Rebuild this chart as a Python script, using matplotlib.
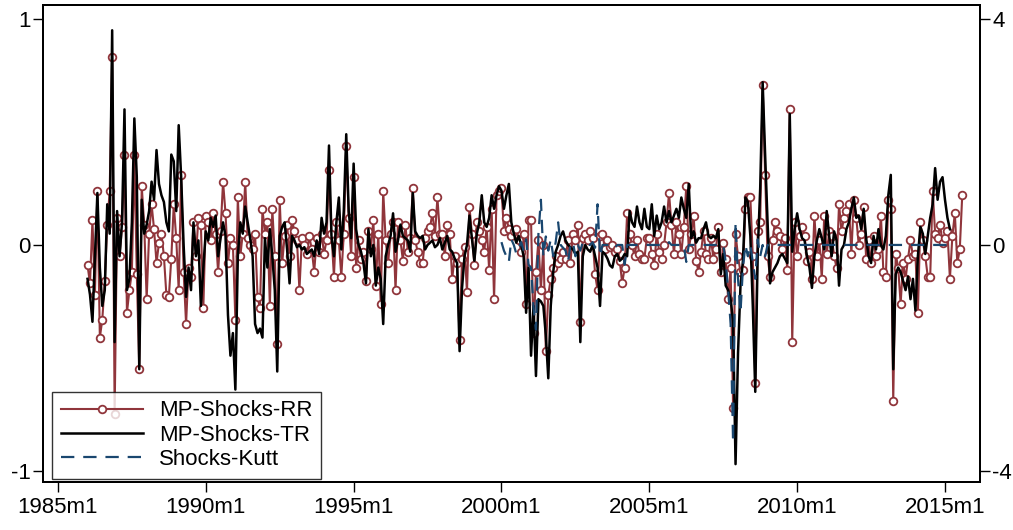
import numpy as np
import matplotlib.pyplot as plt

plt.rcParams['font.family'] = ['Liberation Sans', 'DejaVu Sans']

# Monthly monetary policy shocks. Months are counted from 1985m1.
rr_start = 12     # 1986m1
tr_start = 12     # 1986m1
kutt_start = 180  # 2000m1

# MP-Shocks-RR, 1986m1 - 2015m8
rr = [
    -0.09, -0.17, 0.11, -0.22, 0.24, -0.41, -0.33, -0.16, 0.09, 0.24, 0.83, -0.75,   # 1986
    0.12, -0.05, 0.08, 0.40, -0.30, -0.20, -0.12, 0.40, -0.13, -0.55, 0.26, 0.09,    # 1987
    -0.24, 0.05, 0.18, 0.07, -0.08, 0.01, 0.05, -0.05, -0.22, -0.23, -0.06, 0.18,    # 1988
    0.03, -0.20, 0.31, -0.12, -0.35, -0.10, -0.14, 0.10, -0.05, 0.12, 0.09, -0.28,   # 1989
    0.13, 0.10, 0.02, 0.14, 0.05, -0.12, 0.06, 0.28, 0.14, -0.08, 0.03, 0.00,        # 1990
    -0.33, 0.21, -0.05, 0.05, 0.28, 0.03, 0.00, -0.02, 0.05, -0.23, -0.28, 0.16,     # 1991
    0.05, 0.10, -0.27, 0.16, -0.05, -0.44, 0.20, -0.08, 0.04, 0.09, -0.05, 0.11,     # 1992
    0.06, 0.02, -0.20, 0.03, 0.00, -0.04, 0.04, -0.02, -0.12, 0.03, -0.03, 0.05,     # 1993
    -0.04, 0.02, 0.33, 0.05, -0.14, 0.10, 0.02, -0.14, 0.05, 0.44, 0.12, -0.05,      # 1994
    0.30, -0.10, 0.02, -0.06, -0.03, -0.16, 0.06, -0.02, 0.11, -0.18, 0.05, -0.26,   # 1995
    0.24, 0.02, -0.08, 0.05, 0.10, -0.20, 0.10, 0.02, -0.07, 0.09, -0.03, 0.03,      # 1996
    0.25, 0.02, -0.03, -0.08, -0.08, 0.03, 0.06, 0.08, 0.14, 0.04, 0.21, 0.05,       # 1997
    0.05, -0.05, 0.09, 0.05, -0.15, -0.05, -0.08, -0.42, -0.06, -0.01, -0.21, 0.17,  # 1998
    0.05, -0.09, 0.10, 0.06, 0.02, -0.03, 0.08, -0.11, 0.16, -0.24, 0.22, 0.24,      # 1999
    0.25, 0.06, 0.12, 0.07, 0.04, 0.06, 0.07, 0.02, -0.03, 0.05, -0.26, 0.11,        # 2000
    0.11, -0.39, -0.12, 0.02, -0.20, 0.00, -0.47, -0.22, -0.15, -0.10, -0.05, -0.08, # 2001
    -0.06, -0.03, -0.06, 0.02, -0.08, 0.05, 0.02, 0.09, -0.34, 0.03, 0.05, 0.02,     # 2002
    0.06, 0.03, -0.13, -0.20, 0.04, 0.05, -0.02, 0.02, -0.01, 0.00, -0.03, -0.02,    # 2003
    -0.07, -0.17, -0.10, 0.14, 0.05, 0.00, -0.05, 0.02, -0.04, -0.06, -0.06, 0.03,   # 2004
    0.03, -0.04, -0.09, 0.05, -0.03, -0.06, 0.00, 0.10, 0.23, 0.09, -0.04, 0.10,     # 2005
    0.05, -0.04, 0.08, 0.26, -0.02, 0.05, 0.13, -0.07, -0.12, -0.03, 0.06, -0.04,    # 2006
    -0.06, 0.03, -0.06, -0.02, 0.08, -0.12, 0.01, -0.06, -0.24, -0.10, -0.72, 0.05,  # 2007
    -0.05, -0.12, -0.11, 0.16, 0.21, 0.21, -0.05, -0.61, 0.06, 0.10, 0.71, 0.31,     # 2008
    -0.05, -0.14, 0.02, 0.10, 0.06, 0.04, -0.02, 0.03, -0.11, 0.60, -0.43, 0.10,     # 2009
    -0.05, 0.04, 0.08, 0.04, -0.07, -0.03, -0.15, 0.13, -0.05, 0.02, -0.15, 0.13,    # 2010
    -0.04, 0.06, 0.04, -0.05, -0.10, 0.18, 0.06, 0.12, 0.15, 0.18, -0.04, 0.20,      # 2011
    0.12, 0.00, 0.05, 0.17, -0.06, 0.02, -0.08, 0.04, -0.05, -0.02, 0.13, -0.12,     # 2012
    -0.14, 0.20, 0.16, -0.69, -0.04, -0.10, -0.26, -0.08, -0.15, -0.06, 0.02, -0.05, # 2013
    -0.04, -0.30, 0.10, 0.02, -0.05, -0.14, -0.14, 0.24, 0.05, 0.03, 0.09, 0.01,     # 2014
    0.03, 0.06, -0.15, 0.04, 0.14, -0.08, -0.02, 0.22,                               # 2015
]

# MP-Shocks-TR, 1986m1 - 2015m3
tr = [
    -0.15, -0.22, -0.34, -0.05, 0.23, -0.10, -0.27, -0.20, 0.18, 0.05, 0.95, -0.43,  # 1986
    0.15, -0.05, 0.10, 0.60, -0.20, -0.15, 0.10, 0.56, 0.30, -0.55, 0.20, 0.05,      # 1987
    0.09, 0.15, 0.28, 0.20, 0.42, 0.27, 0.22, 0.19, 0.10, 0.06, 0.40, 0.37,          # 1988
    0.15, 0.53, 0.30, 0.00, -0.23, -0.10, -0.20, 0.10, -0.05, 0.02, -0.27, -0.10,    # 1989
    0.06, 0.02, 0.12, 0.08, 0.13, -0.05, 0.03, 0.10, 0.04, -0.31, -0.49, -0.39,      # 1990
    -0.64, -0.05, 0.10, 0.05, 0.17, 0.10, 0.03, -0.05, -0.35, -0.39, -0.37, -0.41,   # 1991
    0.03, -0.10, 0.07, -0.05, -0.20, -0.56, 0.04, 0.08, 0.10, -0.02, -0.17, 0.04,    # 1992
    0.02, -0.01, 0.00, -0.02, -0.01, -0.04, -0.03, -0.02, -0.05, 0.02, -0.04, 0.12,  # 1993
    0.05, 0.10, 0.44, 0.04, -0.05, 0.10, 0.21, -0.02, 0.15, 0.49, 0.15, 0.03,        # 1994
    0.36, 0.07, 0.00, -0.03, -0.08, -0.17, 0.07, -0.05, 0.00, -0.18, -0.10, -0.15,   # 1995
    -0.35, -0.05, 0.00, 0.04, 0.14, -0.03, 0.02, 0.09, 0.04, 0.03, 0.02, -0.03,      # 1996
    0.23, 0.06, 0.04, 0.03, 0.04, -0.02, 0.00, 0.01, 0.02, -0.01, 0.00, 0.03,        # 1997
    -0.02, 0.01, 0.04, -0.02, -0.03, -0.06, -0.08, -0.47, -0.19, -0.05, 0.00, 0.13,  # 1998
    0.03, -0.07, 0.05, 0.10, 0.22, 0.10, 0.08, 0.12, 0.22, 0.16, 0.22, 0.26,         # 1999
    0.24, 0.16, 0.22, 0.27, 0.10, 0.05, 0.01, 0.04, 0.00, -0.05, -0.30, -0.10,       # 2000
    -0.49, -0.27, -0.58, -0.24, -0.25, -0.27, -0.40, -0.59, -0.27, -0.12, -0.03, 0.00, # 2001
    0.04, 0.06, 0.02, 0.00, -0.01, -0.02, -0.04, -0.03, -0.43, -0.05, 0.00, -0.02,   # 2002
    -0.03, 0.00, -0.05, -0.10, -0.27, -0.03, -0.04, -0.06, -0.09, -0.10, -0.05, -0.04, # 2003
    -0.07, -0.06, -0.04, -0.05, 0.15, 0.10, 0.08, 0.17, 0.10, 0.07, 0.16, 0.08,      # 2004
    0.07, 0.18, 0.04, 0.13, 0.07, 0.10, 0.17, 0.10, 0.15, 0.10, 0.13, 0.16,          # 2005
    0.12, 0.21, 0.16, 0.12, 0.27, 0.03, 0.06, 0.01, 0.03, 0.03, 0.07, 0.10,          # 2006
    0.04, 0.03, 0.04, 0.03, 0.07, -0.13, -0.04, -0.18, -0.20, -0.24, -0.34, -0.97,   # 2007
    -0.48, -0.18, -0.07, 0.21, 0.19, 0.04, -0.27, -0.65, -0.03, 0.25, 0.72, 0.40,    # 2008
    0.10, -0.17, -0.12, -0.10, -0.08, -0.05, -0.04, -0.06, -0.08, 0.58, -0.03, 0.07, # 2009
    0.14, 0.07, 0.03, 0.02, -0.05, -0.10, -0.19, -0.05, 0.02, 0.07, 0.03, -0.02,     # 2010
    0.15, 0.04, -0.05, 0.06, 0.02, -0.18, -0.02, 0.00, 0.07, 0.10, 0.16, 0.21,       # 2011
    0.12, 0.13, 0.07, 0.16, 0.03, -0.05, -0.08, 0.04, -0.02, 0.07, 0.00, -0.02,      # 2012
    0.04, 0.22, 0.31, -0.55, -0.13, -0.10, -0.12, -0.16, -0.20, -0.14, -0.24, -0.15, # 2013
    -0.29, -0.05, 0.08, 0.05, -0.04, 0.04, 0.12, 0.18, 0.34, 0.20, 0.28, 0.30,       # 2014
    0.20, 0.12, 0.07,                                                                # 2015
]

# Shocks-Kutt (right axis), 2000m1 - 2015m3
kutt = [
    0.05, -0.10, -0.20, -0.30, 0.10, 0.00, -0.15, -0.05, 0.05, -0.10, 0.10, -0.35,   # 2000
    -0.40, -1.10, -1.50, 0.20, 0.80, -0.20, 0.15, -0.10, 0.10, -0.20, 0.05, 0.40,    # 2001
    0.00, -0.05, -0.10, -0.30, 0.00, 0.05, -0.20, 0.00, -0.10, 0.05, 0.00, 0.00,     # 2002
    0.00, 0.05, -0.05, 0.72, -0.20, 0.00, 0.00, 0.00, 0.00, 0.00, -0.05, 0.00,       # 2003
    0.00, 0.00, -0.35, 0.00, 0.00, 0.00, 0.00, 0.00, 0.00, 0.00, 0.00, 0.00,         # 2004
    0.00, 0.00, 0.00, 0.00, 0.00, 0.00, 0.00, 0.00, 0.05, 0.00, 0.00, 0.00,          # 2005
    0.00, 0.00, 0.00, -0.30, 0.00, 0.00, 0.00, 0.00, 0.00, 0.00, 0.00, 0.00,         # 2006
    0.00, 0.00, 0.00, 0.00, 0.00, 0.00, 0.00, -0.30, -0.80, -1.40, -3.50, 0.40,      # 2007
    -0.60, -1.20, -0.40, 0.00, -0.20, 0.00, -0.30, -0.60, 0.10, -0.20, 0.00, -0.20,  # 2008
    0.00, 0.00, 0.00, 0.00, 0.00, 0.00, 0.00, 0.00, 0.00, 0.00, 0.00, 0.00,          # 2009
    0.00, 0.00, 0.00, 0.00, 0.00, 0.00, 0.00, 0.00, 0.00, 0.00, 0.00, 0.00,          # 2010
    0.00, 0.00, 0.00, 0.00, 0.00, 0.00, 0.00, 0.00, 0.00, 0.00, 0.00, 0.00,          # 2011
    0.00, 0.00, 0.00, 0.00, 0.00, 0.00, 0.00, 0.00, 0.00, 0.00, 0.00, 0.00,          # 2012
    0.00, 0.00, 0.00, 0.00, 0.00, 0.00, 0.00, 0.00, 0.00, 0.00, 0.00, 0.00,          # 2013
    0.00, 0.00, 0.00, 0.00, 0.00, 0.00, 0.00, 0.00, 0.00, 0.00, 0.00, 0.00,          # 2014
    0.00, 0.00, 0.00,                                                                # 2015
]

tick_months = [0, 60, 120, 180, 240, 300, 360]
tick_labels = ["1985m1", "1990m1", "1995m1", "2000m1", "2005m1", "2010m1", "2015m1"]

x_rr = np.arange(len(rr)) + rr_start
x_tr = np.arange(len(tr)) + tr_start
x_kutt = np.arange(len(kutt)) + kutt_start

fig = plt.figure(figsize=(10.13, 5.30), dpi=100)
ax = fig.add_axes([0.0424, 0.0906, 0.925, 0.900])

l1, = ax.plot(x_rr, rr, color="#90353b", lw=1.5, marker="o", ms=5.5,
              mfc="white", mec="#90353b", mew=1.3, label="MP-Shocks-RR")
l2, = ax.plot(x_tr, tr, color="black", lw=1.8, label="MP-Shocks-TR")

ax2 = ax.twinx()
l3, = ax2.plot(x_kutt, kutt, color="#1a476f", lw=1.6, dashes=(6, 4),
               label="Shocks-Kutt")

ax.set_xlim(-6.09, 374.2)
ax.set_ylim(-1.049, 1.062)
ax2.set_ylim(-4 * 1.049, 4 * 1.062)

ax.set_xticks(tick_months)
ax.set_xticklabels(tick_labels)
ax.set_yticks([-1, 0, 1])
ax.set_yticklabels(["-1", "0", "1"])
ax2.set_yticks([-4, 0, 4])
ax2.set_yticklabels(["-4", "0", "4"])

for a in (ax, ax2):
    a.tick_params(direction="out", length=7, width=1.0, labelsize=16, pad=2)
    for s in a.spines.values():
        s.set_linewidth(1.4)
ax.tick_params(axis="x", pad=4)

leg = ax2.legend(handles=[l1, l2, l3], loc="lower left",
                 bbox_to_anchor=(0.0096, 0.0063), borderaxespad=0,
                 fontsize=16, frameon=True, fancybox=False, numpoints=1,
                 handlelength=3.7, handletextpad=0.72, labelspacing=0.15,
                 borderpad=0.4)
leg.get_frame().set_edgecolor("black")
leg.get_frame().set_linewidth(1.0)

plt.savefig("out.png", dpi=100)
